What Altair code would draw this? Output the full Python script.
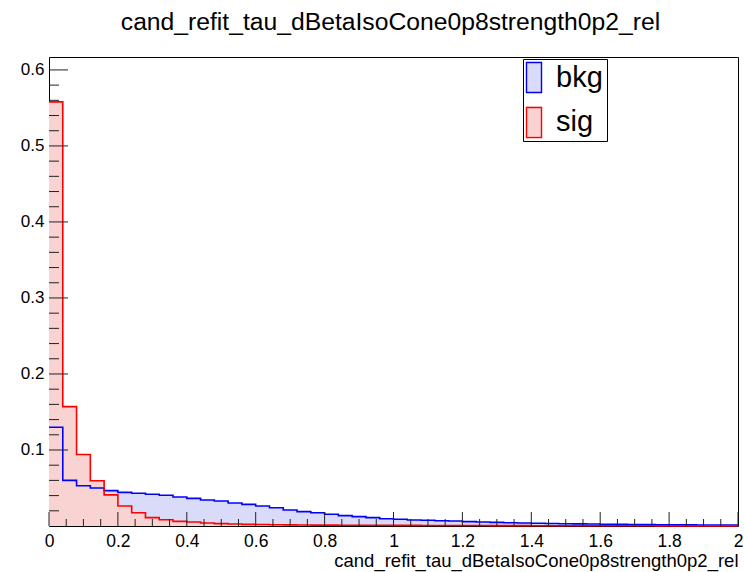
import altair as alt
import pandas as pd

# ---- data ----
bin_edges = [round(0.04 * i, 2) for i in range(51)]

bkg = [0.130, 0.060, 0.053, 0.050, 0.0465, 0.0443, 0.0430, 0.0417, 0.0404, 0.0382,
       0.0364, 0.0342, 0.0329, 0.0303, 0.0285, 0.0263, 0.0241, 0.0211, 0.0189, 0.0175,
       0.0154, 0.0136, 0.0123, 0.0110, 0.0096, 0.0088, 0.0079, 0.0075, 0.0070, 0.0066,
       0.0057, 0.0053, 0.0048, 0.0042, 0.0040, 0.0036, 0.0033, 0.0030, 0.0028, 0.0026,
       0.0024, 0.0022, 0.0020, 0.0018, 0.0017, 0.0016, 0.0015, 0.0014, 0.0013, 0.0012]

sig = [0.558, 0.157, 0.094, 0.0596, 0.041, 0.0263, 0.0175, 0.0110, 0.0083, 0.0061,
       0.0053, 0.0039, 0.0031, 0.0026, 0.0022, 0.0019, 0.0017, 0.0015, 0.0013, 0.0012,
       0.0011, 0.0010, 0.0010, 0.0009, 0.0009, 0.0008, 0.0008, 0.0007, 0.0007, 0.0006,
       0.0006, 0.0006, 0.0005, 0.0005, 0.0005, 0.0004, 0.0004, 0.0004, 0.0004, 0.0003,
       0.0003, 0.0003, 0.0003, 0.0003, 0.0002, 0.0002, 0.0002, 0.0002, 0.0002, 0.0002]

series_names = ["bkg", "sig"]
line_colors = ["#0000ff", "#ff0000"]
fill_colors = ["#dadaf9", "#f9d2d2"]

x_major = [0, 0.2, 0.4, 0.6, 0.8, 1.0, 1.2, 1.4, 1.6, 1.8, 2.0]
x_minor = [0.05, 0.1, 0.15, 0.25, 0.3, 0.35, 0.45, 0.5, 0.55, 0.65, 0.7, 0.75,
           0.85, 0.9, 0.95, 1.05, 1.1, 1.15, 1.25, 1.3, 1.35, 1.45, 1.5, 1.55,
           1.65, 1.7, 1.75, 1.85, 1.9, 1.95]
y_major = [0.1, 0.2, 0.3, 0.4, 0.5, 0.6]
y_minor = [0.02, 0.04, 0.06, 0.08, 0.12, 0.14, 0.16, 0.18, 0.22, 0.24, 0.26, 0.28,
           0.32, 0.34, 0.36, 0.38, 0.42, 0.44, 0.46, 0.48, 0.52, 0.54, 0.56, 0.58]

title_text = "cand_refit_tau_dBetaIsoCone0p8strength0p2_rel"
x_title = "cand_refit_tau_dBetaIsoCone0p8strength0p2_rel"

rows = []
for name, vals in zip(series_names, [bkg, sig]):
    for e, v in zip(bin_edges, vals + [vals[-1]]):
        rows.append({"x": e, "y": v, "series": name, "outline": name})
df = pd.DataFrame(rows)

W, H = 689, 469
FONT = "Liberation Sans"

xs = alt.Scale(domain=[0, 2], nice=False, zero=False)
ys = alt.Scale(domain=[0, 0.617], nice=False)
fill_scale = alt.Scale(range=fill_colors)
stroke_scale = alt.Scale(range=line_colors)

x_axis = alt.Axis(
    values=x_major, format="~g", title=x_title, titleAnchor="end",
    titleFont=FONT, titleFontSize=18.5, titleFontWeight="normal", titleColor="black",
    labelFont=FONT, labelFontSize=17.5, labelColor="black", labelPadding=6,
    ticks=False, domain=False, grid=False, titlePadding=2, labelFlush=False)
y_axis = alt.Axis(
    values=y_major, title=None, format="~g",
    labelFont=FONT, labelFontSize=17, labelColor="black", labelPadding=5,
    ticks=False, domain=False, grid=False)

common_legend = dict(
    title=None, orient="none", legendX=474, legendY=2, padding=4,
    labelFont=FONT, labelFontSize=29, labelOffset=0,
    symbolType="M-3,-3L0,-3L0,3L-3,3Z", symbolSize=100,
)
fill_legend = alt.Legend(
    strokeColor="black", fillColor="white", labelColor="black",
    symbolStrokeWidth=0, rowPadding=13, **common_legend)
stroke_legend = alt.Legend(
    labelColor="black", labelOpacity=0, symbolStrokeWidth=1.4,
    symbolFillColor="transparent", rowPadding=8, **common_legend)

area = alt.Chart(df).mark_area(
    interpolate="step-after", opacity=1
).encode(
    x=alt.X("x:Q", scale=xs, axis=x_axis),
    y=alt.Y("y:Q", scale=ys, axis=y_axis, stack=None),
    color=alt.Color("series:N", scale=fill_scale, legend=fill_legend),
    order=alt.Order("series:N"),
)

outline = alt.Chart(df).mark_line(
    interpolate="step-after", strokeWidth=1.6
).encode(
    x=alt.X("x:Q", scale=xs, axis=x_axis),
    y=alt.Y("y:Q", scale=ys, axis=y_axis),
    stroke=alt.Stroke("outline:N", scale=stroke_scale, legend=stroke_legend),
    order=alt.Order("x:Q"),
)

tick_color = "#222222"
xmaj = alt.Chart(pd.DataFrame({"x": x_major})).mark_rule(color=tick_color, strokeWidth=1).encode(
    x=alt.X("x:Q", scale=xs, axis=x_axis), y=alt.value(H), y2=alt.value(H - 14))
xmin = alt.Chart(pd.DataFrame({"x": x_minor})).mark_rule(color=tick_color, strokeWidth=1).encode(
    x=alt.X("x:Q", scale=xs, axis=x_axis), y=alt.value(H), y2=alt.value(H - 7))
ymaj = alt.Chart(pd.DataFrame({"y": y_major})).mark_rule(color=tick_color, strokeWidth=1).encode(
    y=alt.Y("y:Q", scale=ys, axis=y_axis), x=alt.value(0), x2=alt.value(19))
ymin = alt.Chart(pd.DataFrame({"y": y_minor})).mark_rule(color=tick_color, strokeWidth=1).encode(
    y=alt.Y("y:Q", scale=ys, axis=y_axis), x=alt.value(0), x2=alt.value(10))

chart = alt.layer(area, outline, xmaj, xmin, ymaj, ymin).properties(
    width=W, height=H,
    title=alt.Title(title_text, font=FONT, fontSize=24.7, fontWeight="normal",
                    color="black", anchor="middle", offset=22, frame="group", dx=-3),
    padding={"left": 49, "top": 57, "right": 6, "bottom": 46},
    autosize=alt.AutoSizeParams(type="none"),
).configure(
    background="white",
    view=alt.ViewConfig(stroke="black", strokeWidth=1),
)

chart.save("out.html", embed_options={"renderer": "svg", "actions": False})
